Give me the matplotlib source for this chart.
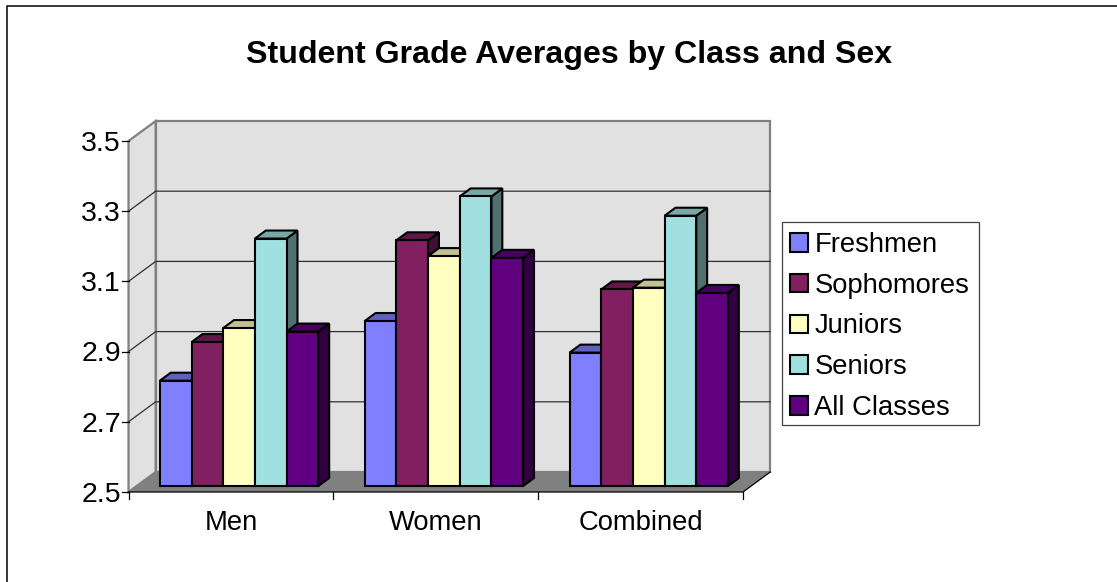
import numpy as np
import matplotlib
matplotlib.use('Agg')
import matplotlib.pyplot as plt
from matplotlib.patches import Patch, Polygon, Rectangle

plt.rcParams['font.family'] = ['Liberation Sans', 'DejaVu Sans']

# --- data ---
groups = ['Men', 'Women', 'Combined']
series = ['Freshmen', 'Sophomores', 'Juniors', 'Seniors', 'All Classes']
men = [2.80, 2.91, 2.95, 3.205, 2.94]
women = [2.97, 3.20, 3.155, 3.325, 3.15]
combined = [2.88, 3.06, 3.065, 3.27, 3.05]
y_ticks = [2.5, 2.7, 2.9, 3.1, 3.3, 3.5]
front = ['#8080FF', '#802060', '#FFFFC0', '#A0E0E0', '#600080']
top = ['#6060C0', '#601848', '#C0C090', '#78A8A8', '#480060']
side = ['#404080', '#401030', '#808060', '#507070', '#300040']

W, H = 1117, 582
FONT = 19.7
fig = plt.figure(figsize=(W / 100, H / 100), dpi=100)

# axes = front plane of the 3D box, pixels
left, right, bottom, upper = 128.5, 743.0, 492.0, 141.0
ax = fig.add_axes([left / W, 1 - bottom / H, (right - left) / W, (bottom - upper) / H])
ax.set_xlim(0, 3)
ax.set_ylim(2.5, 3.5)
ax.axis('off')

# depth of the box in data units
DX = 27.2 / (right - left) * 3
DY = 20.0 / (bottom - upper)
BAR_W = 0.1547
GAP = (1 - 5 * BAR_W) / 2
OFFSET = 0.3   # bar front sits this far into the box
DEPTH = 0.4    # bar depth as share of the box


def poly(pts, fc, ec='none', lw=0.0, z=1):
    ax.add_patch(Polygon(pts, closed=True, facecolor=fc, edgecolor=ec, linewidth=lw,
                         joinstyle='miter', zorder=z, clip_on=False))


# walls and floor
GREY = '#808080'
poly([(0, 2.5), (DX, 2.5 + DY), (DX, 3.5 + DY), (0, 3.5)], '#E1E1E1', GREY, 1.6)
poly([(DX, 2.5 + DY), (3 + DX, 2.5 + DY), (3 + DX, 3.5 + DY), (DX, 3.5 + DY)], '#E1E1E1', GREY, 1.6)
poly([(0, 2.5), (3, 2.5), (3 + DX, 2.5 + DY), (DX, 2.5 + DY)], GREY, z=2)

# gridlines along both walls
for t in y_ticks[1:-1]:
    ax.plot([0, DX, 3 + DX], [t, t + DY, t + DY], color='#303030', lw=0.9, zorder=2, clip_on=False)

# axis lines and ticks
ax.plot([0, 3, 3 + DX], [2.5, 2.5, 2.5 + DY], color='black', lw=0.9, zorder=3, clip_on=False)
tick_x = 6.5 / (right - left) * 3
tick_y = 6.5 / (bottom - upper)
for t in y_ticks:
    ax.plot([-tick_x, 0], [t, t], color='black', lw=0.9, zorder=3, clip_on=False)
    ax.text(-tick_x - 0.005, t - 0.008, f'{t:.1f}', ha='right', va='center', fontsize=20.5)
for g in range(4):
    ax.plot([g, g], [2.5, 2.5 - tick_y], color='black', lw=0.9, zorder=3, clip_on=False)
for g, name in enumerate(groups):
    ax.text(g + 0.5, 2.5 - 0.088, name, ha='center', va='center', fontsize=FONT)

# bars, left to right so each one hides the side of the previous
z = 4
for g, vals in enumerate([men, women, combined]):
    for i, v in enumerate(vals):
        x0 = g + GAP + i * BAR_W + OFFSET * DX
        x1 = x0 + BAR_W
        y0 = 2.5 + OFFSET * DY
        y1 = v + OFFSET * DY
        ddx, ddy = DEPTH * DX, DEPTH * DY
        poly([(x1, y0), (x1 + ddx, y0 + ddy), (x1 + ddx, y1 + ddy), (x1, y1)], side[i], 'black', 1.5, z)
        poly([(x0, y1), (x1, y1), (x1 + ddx, y1 + ddy), (x0 + ddx, y1 + ddy)], top[i], 'black', 1.5, z)
        poly([(x0, y0), (x1, y0), (x1, y1), (x0, y1)], front[i], 'black', 1.5, z)
        z += 1

# title, frame of the original picture
fig.text(569 / W, 1 - 55 / H, 'Student Grade Averages by Class and Sex',
         ha='center', va='center', fontsize=23.1, fontweight='bold')
fig.add_artist(plt.Line2D([6.5 / W, 6.5 / W, 1], [0, 1 - 6 / H, 1 - 6 / H], color='black', lw=1.1))

# legend box drawn apart so its padding can be even above and below the entries
fig.add_artist(Rectangle((782 / W, 1 - 425 / H), 197 / W, 203.3 / H, transform=fig.transFigure,
                         facecolor='white', edgecolor='#404040', linewidth=0.9))
handles = [Patch(facecolor=c, edgecolor='black', linewidth=1.5, label=s) for c, s in zip(front, series)]
leg = fig.legend(handles=handles, loc='upper left', bbox_to_anchor=(782 / W, 1 - 223.7 / H),
                 borderaxespad=0, fontsize=FONT, frameon=False,
                 handlelength=0.66, handleheight=0.66, handletextpad=0.22, labelspacing=0.54,
                 borderpad=0.3)

fig.savefig('out.png', dpi=100)
